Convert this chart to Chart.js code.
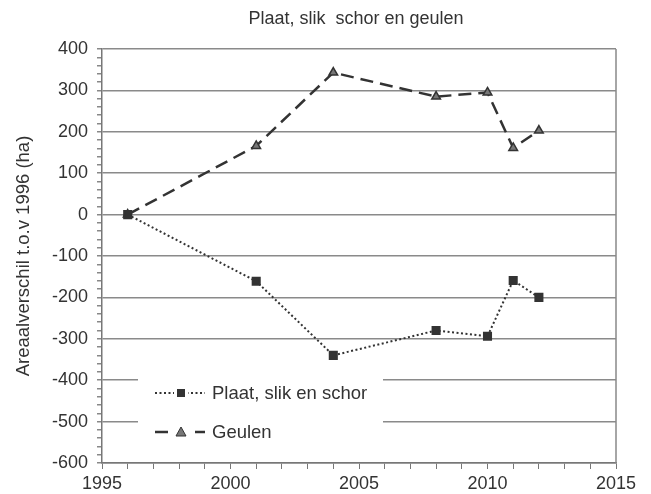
<!DOCTYPE html>
<html>
<head>
<meta charset="utf-8">
<script src="https://cdn.jsdelivr.net/npm/chart.js@4"></script>
<style>
  body { margin: 0; background: #fff; }
  #wrap { width: 651px; height: 494px; position: relative; }
</style>
</head>
<body>
<div id="wrap"><canvas id="myChart"></canvas></div>
<script>
// data
const years = [1996, 2001, 2004, 2008, 2010, 2011, 2012];
const plaat = [0, -161, -340, -280, -294, -159, -200];
const geulen = [0, 166, 343, 285, 295, 161, 203];
const seriesNames = ['Plaat, slik en schor', 'Geulen'];
const chartTitle = 'Plaat, slik  schor en geulen';
const yTitle = 'Areaalverschil t.o.v 1996 (ha)';

const ink = '#333333';
const font = 'Liberation Sans, Arial, sans-serif';

// title, right border and legend box
const extras = {
  id: 'extras',
  afterDraw(chart) {
    const c = chart.ctx;
    const a = chart.chartArea;
    c.save();
    // right frame line
    c.strokeStyle = '#888';
    c.lineWidth = 1.5;
    c.beginPath();
    c.moveTo(a.right, a.top);
    c.lineTo(a.right, a.bottom);
    c.stroke();

    // title
    c.fillStyle = ink;
    c.font = '18px ' + font;
    c.textAlign = 'center';
    c.textBaseline = 'middle';
    c.fillText(chartTitle, (a.left + a.right) / 2 - 3, 19);

    // legend
    const lx = 138, ly = 368, lw = 245, lh = 76;
    c.fillStyle = '#fff';
    c.fillRect(lx, ly, lw, lh);
    chart.data.datasets.forEach((ds, i) => {
      const y = 393 + i * 39;
      c.strokeStyle = ds.borderColor;
      c.lineWidth = ds.borderWidth;
      c.setLineDash(ds.borderDash);
      c.beginPath();
      c.moveTo(155, y);
      c.lineTo(205, y);
      c.stroke();
      c.setLineDash([]);
      c.fillStyle = '#fff';
      c.fillRect(174, y - 6, 14, 12);
      c.fillStyle = ds.pointBackgroundColor;
      c.strokeStyle = ds.pointBorderColor;
      c.lineWidth = 1;
      if (ds.pointStyle === 'rect') {
        c.fillRect(177, y - 4, 8, 8);
      } else {
        c.beginPath();
        c.moveTo(181, y - 5);
        c.lineTo(186, y + 4);
        c.lineTo(176, y + 4);
        c.closePath();
        c.fill();
        c.stroke();
      }
      c.fillStyle = ink;
      c.font = '18.5px ' + font;
      c.textAlign = 'left';
      c.fillText(ds.label, 212, y + 1);
    });
    c.restore();
  }
};

const ctx = document.getElementById('myChart').getContext('2d');
const chart = new Chart(ctx, {
  type: 'line',
  data: {
    datasets: [
      {
        label: seriesNames[0],
        data: years.map((x, i) => ({ x: x, y: plaat[i] })),
        borderColor: ink,
        borderWidth: 2,
        borderDash: [2, 2.5],
        pointStyle: 'rect',
        pointRadius: 5,
        pointBackgroundColor: ink,
        pointBorderColor: ink,
        tension: 0
      },
      {
        label: seriesNames[1],
        data: years.map((x, i) => ({ x: x, y: geulen[i] })),
        borderColor: ink,
        borderWidth: 2.5,
        borderDash: [13, 7],
        pointStyle: 'triangle',
        pointRadius: 5,
        pointBackgroundColor: '#777',
        pointBorderColor: ink,
        pointBorderWidth: 1.5,
        tension: 0
      }
    ]
  },
  options: {
    responsive: true,
    maintainAspectRatio: false,
    animation: false,
    layout: { padding: { top: 49, right: 35, left: 0, bottom: 0 } },
    plugins: {
      legend: { display: false },
      title: { display: false },
      tooltip: { enabled: false }
    },
    scales: {
      x: {
        type: 'linear',
        min: 1995,
        max: 2015,
        ticks: {
          stepSize: 1,
          autoSkip: false,
          maxRotation: 0,
          color: ink,
          font: { family: font, size: 18 },
          padding: 4,
          callback: v => (v % 5 === 0 ? String(v) : '')
        },
        grid: { drawOnChartArea: false, tickLength: 6, tickColor: '#777' },
        border: { color: '#777', width: 1.5 },
        afterFit: s => { s.height = 31; }
      },
      y: {
        min: -600,
        max: 400,
        ticks: {
          stepSize: 20,
          autoSkip: false,
          color: ink,
          font: { family: font, size: 18 },
          padding: 9,
          callback: v => (v % 100 === 0 ? String(v) : '')
        },
        grid: {
          color: c => (c.tick && c.tick.value % 100 === 0 ? '#8a8a8a' : 'rgba(0,0,0,0)'),
          lineWidth: 1.5,
          tickLength: 5,
          tickColor: '#888'
        },
        border: { color: '#777', width: 1.5 },
        title: {
          display: true,
          text: yTitle,
          color: ink,
          font: { family: font, size: 18.5 },
          padding: { top: 13, bottom: 0 }
        },
        afterFit: s => { s.width = 102; }
      }
    }
  },
  plugins: [extras]
});
</script>
</body>
</html>
